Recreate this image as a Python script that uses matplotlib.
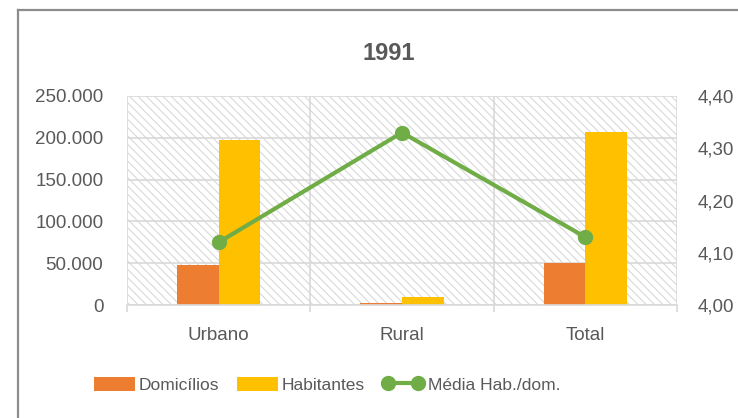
import matplotlib.pyplot as plt
from matplotlib.patches import Rectangle
from matplotlib.lines import Line2D
from matplotlib.ticker import FuncFormatter, FixedLocator
import numpy as np

plt.rcParams['font.family'] = ['Liberation Sans', 'DejaVu Sans']
plt.rcParams['hatch.linewidth'] = 0.7
plt.rcParams['hatch.color'] = '#d4d4d4'

# Dados do censo de 1991
categorias = ['Urbano', 'Rural', 'Total']
domicilios = [47950, 2290, 50240]
habitantes = [197550, 9910, 207460]
media_hab_dom = [4.12, 4.33, 4.13]

TXT = '#595959'
GRID = '#d9d9d9'

fig = plt.figure(figsize=(7.38, 4.18), dpi=100)
W, H = 738, 418

# moldura do gráfico (só esquerda e topo visíveis)
fig.add_artist(Line2D([17.5 / W, 17.5 / W], [0, 1 - 10 / H], color='#8c8c8c', lw=1.6))
fig.add_artist(Line2D([17.5 / W, 1], [1 - 10 / H, 1 - 10 / H], color='#8c8c8c', lw=1.6))

ax = fig.add_axes([127 / W, (H - 305) / H, 550 / W, 209 / H])
x = np.arange(len(categorias))
bw = 0.227

# fundo hachurado
ax.add_patch(Rectangle((0, 0), 1, 1, transform=ax.transAxes, facecolor='white',
                       edgecolor='#d4d4d4', hatch='\\\\\\\\', lw=0, zorder=0))

ax.bar(x - bw / 2, domicilios, bw, color='#ED7D31', zorder=3, label='Domicílios')
ax.bar(x + bw / 2, habitantes, bw, color='#FFC000', zorder=3, label='Habitantes')

ax.set_xlim(-0.5, 2.5)
ax.set_ylim(0, 250000)
ax.set_yticks(np.arange(0, 250001, 50000))
ax.yaxis.set_major_formatter(FuncFormatter(lambda v, p: f'{int(v):,}'.replace(',', '.')))
ax.grid(axis='y', color=GRID, lw=1.2, zorder=1)
for b in [-0.5, 0.5, 1.5, 2.5]:
    ax.axvline(b, color=GRID, lw=1.2, zorder=1)
ax.set_xticks(x)
ax.set_xticklabels(categorias)
ax.xaxis.set_minor_locator(FixedLocator([-0.5, 0.5, 1.5, 2.5]))
ax.tick_params(axis='x', which='minor', length=5, width=1.2, color=GRID)
ax.tick_params(axis='x', which='major', length=0, pad=15.5, labelsize=13.5, labelcolor=TXT)
ax.tick_params(axis='y', length=0, pad=17, labelsize=13.5, labelcolor=TXT)
for s in ['top', 'right', 'left']:
    ax.spines[s].set_visible(False)
ax.spines['bottom'].set_color(GRID)
ax.spines['bottom'].set_linewidth(1.2)
ax.spines['bottom'].set_zorder(4)

ax2 = ax.twinx()
ax2.plot(x, media_hab_dom, color='#70AD47', lw=3, marker='o', markersize=10,
         zorder=5, label='Média Hab./dom.')
ax2.set_ylim(4.0, 4.4)
ax2.set_yticks(np.arange(4.0, 4.401, 0.1))
ax2.yaxis.set_major_formatter(FuncFormatter(lambda v, p: f'{v:.2f}'.replace('.', ',')))
ax2.tick_params(axis='y', length=0, pad=15, labelsize=13.5, labelcolor=TXT)
for s in ax2.spines.values():
    s.set_visible(False)

fig.text(389 / W, 1 - 53 / H, '1991', ha='center', va='center', fontsize=17,
         fontweight='bold', color=TXT)

h1, l1 = ax.get_legend_handles_labels()
h2, l2 = ax2.get_legend_handles_labels()
fig.legend(h1 + h2, l1 + l2, loc='center', bbox_to_anchor=(327 / W, 1 - 385 / H), ncol=3,
           frameon=False, fontsize=12.5, labelcolor=TXT, handlelength=2.36,
           handleheight=0.85, handletextpad=0.25, columnspacing=1.0, borderpad=0,
           numpoints=2)

fig.savefig('out.png', dpi=100, facecolor='white')
